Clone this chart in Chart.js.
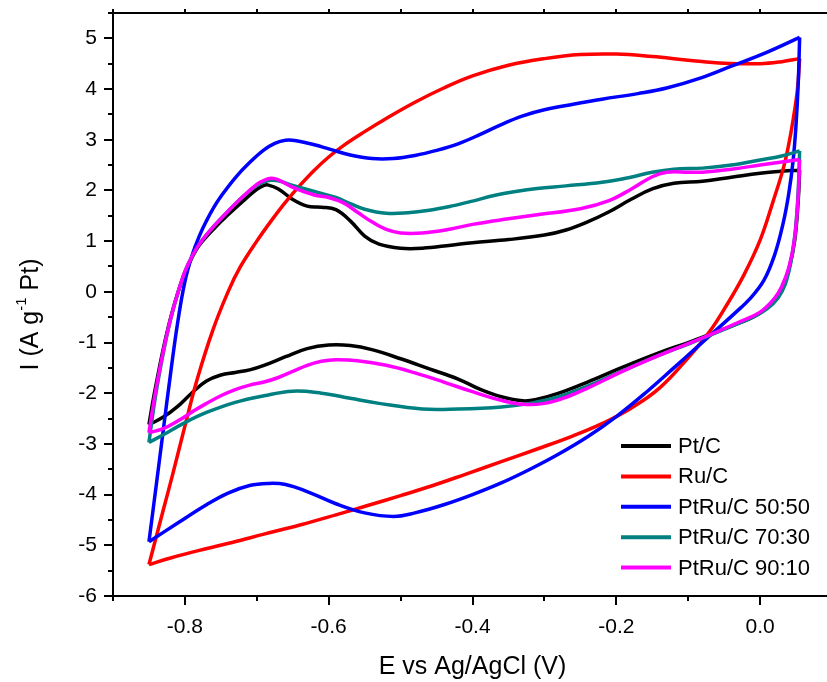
<!DOCTYPE html>
<html>
<head>
<meta charset="utf-8">
<script src="https://cdn.jsdelivr.net/npm/chart.js@4/dist/chart.umd.min.js"></script>
<style>
  html, body { margin: 0; padding: 0; background: #fff; overflow: hidden; }
  #wrap { width: 840px; height: 682px; }
</style>
</head>
<body>
<div id="wrap"><canvas id="cv" width="840" height="682"></canvas></div>
<script>
// potential (V vs Ag/AgCl) and current (A g-1 Pt); each loop = forward sweep then reverse sweep
const potentialTicks = [-0.8, -0.6, -0.4, -0.2, 0.0];
const currentTicks = [-6, -5, -4, -3, -2, -1, 0, 1, 2, 3, 4, 5];

const ptcE = [-0.85,-0.845,-0.84,-0.83,-0.82,-0.81,-0.80,-0.79,-0.78,-0.76,-0.74,-0.72,-0.70,-0.69,-0.685,-0.67,-0.65,-0.63,-0.61,-0.59,-0.57,-0.55,-0.53,-0.50,-0.47,-0.43,-0.40,-0.35,-0.30,-0.27,-0.24,-0.21,-0.18,-0.15,-0.12,-0.08,-0.04,0.00,0.03,0.055,
  0.053,0.048,0.04,0.03,0.02,0.0,-0.03,-0.07,-0.10,-0.14,-0.19,-0.24,-0.28,-0.31,-0.33,-0.36,-0.39,-0.42,-0.46,-0.50,-0.54,-0.57,-0.60,-0.63,-0.66,-0.69,-0.71,-0.73,-0.75,-0.77,-0.79,-0.81,-0.83,-0.85];
const ptcI = [-2.62,-2.2,-1.82,-1.12,-0.52,-0.03,0.38,0.68,0.92,1.24,1.52,1.78,2.02,2.10,2.11,2.03,1.82,1.69,1.67,1.62,1.40,1.10,0.94,0.86,0.86,0.92,0.97,1.03,1.12,1.22,1.38,1.58,1.82,2.03,2.14,2.18,2.26,2.34,2.38,2.40,
  1.8,1.0,0.45,0.08,-0.15,-0.42,-0.62,-0.84,-1.0,-1.2,-1.48,-1.78,-2.0,-2.12,-2.15,-2.07,-1.92,-1.72,-1.52,-1.32,-1.14,-1.06,-1.05,-1.12,-1.28,-1.45,-1.54,-1.59,-1.64,-1.76,-1.99,-2.26,-2.47,-2.62];

const rucE = [-0.85,-0.83,-0.817,-0.80,-0.783,-0.761,-0.74,-0.723,-0.70,-0.68,-0.66,-0.64,-0.62,-0.60,-0.58,-0.55,-0.52,-0.48,-0.44,-0.40,-0.35,-0.30,-0.25,-0.20,-0.15,-0.10,-0.05,0.0,0.03,0.055,
  0.052,0.046,0.039,0.032,0.018,0.0,-0.023,-0.046,-0.07,-0.10,-0.14,-0.18,-0.22,-0.26,-0.31,-0.36,-0.41,-0.455,-0.50,-0.547,-0.59,-0.64,-0.69,-0.733,-0.78,-0.82,-0.85];
const rucI = [-5.38,-4.3,-3.6,-2.65,-1.73,-0.75,0.0,0.49,1.0,1.4,1.77,2.1,2.4,2.66,2.88,3.16,3.42,3.74,4.02,4.26,4.47,4.6,4.68,4.69,4.64,4.57,4.51,4.5,4.54,4.6,
  4.0,3.4,2.85,2.42,1.78,1.02,0.32,-0.25,-0.78,-1.3,-1.9,-2.3,-2.6,-2.84,-3.1,-3.35,-3.6,-3.82,-4.02,-4.22,-4.4,-4.6,-4.78,-4.94,-5.1,-5.25,-5.38];

const ptru5050E = [-0.85,-0.84,-0.83,-0.82,-0.81,-0.80,-0.79,-0.78,-0.77,-0.76,-0.75,-0.73,-0.71,-0.69,-0.675,-0.66,-0.645,-0.62,-0.60,-0.57,-0.54,-0.51,-0.48,-0.45,-0.42,-0.39,-0.36,-0.33,-0.30,-0.26,-0.22,-0.17,-0.13,-0.08,-0.04,0.01,0.055,
  0.053,0.05,0.046,0.04,0.032,0.02,0.005,-0.015,-0.035,-0.06,-0.09,-0.12,-0.16,-0.20,-0.24,-0.28,-0.32,-0.36,-0.40,-0.44,-0.48,-0.51,-0.55,-0.59,-0.63,-0.66,-0.685,-0.71,-0.74,-0.77,-0.81,-0.85];
const ptru5050I = [-4.93,-3.83,-2.72,-1.62,-0.6,0.2,0.72,1.1,1.4,1.66,1.88,2.25,2.55,2.8,2.93,2.99,2.98,2.9,2.82,2.7,2.63,2.63,2.69,2.79,2.92,3.1,3.3,3.47,3.59,3.7,3.8,3.91,4.02,4.23,4.45,4.73,5.02,
  4.1,3.3,2.6,1.95,1.35,0.72,0.22,-0.15,-0.42,-0.74,-1.12,-1.5,-2.0,-2.46,-2.86,-3.2,-3.5,-3.77,-4.0,-4.2,-4.36,-4.43,-4.36,-4.18,-3.94,-3.8,-3.78,-3.82,-3.97,-4.2,-4.56,-4.93];

const ptru7030E = [-0.85,-0.845,-0.84,-0.83,-0.82,-0.81,-0.80,-0.79,-0.78,-0.76,-0.74,-0.72,-0.70,-0.69,-0.68,-0.67,-0.65,-0.62,-0.59,-0.57,-0.55,-0.52,-0.49,-0.46,-0.43,-0.40,-0.37,-0.34,-0.31,-0.27,-0.22,-0.18,-0.15,-0.12,-0.08,-0.04,0.0,0.03,0.055,
  0.053,0.049,0.043,0.035,0.025,0.01,-0.01,-0.04,-0.07,-0.10,-0.14,-0.19,-0.24,-0.28,-0.32,-0.36,-0.42,-0.47,-0.53,-0.57,-0.61,-0.65,-0.69,-0.73,-0.77,-0.80,-0.83,-0.85];
const ptru7030I = [-2.97,-2.45,-1.98,-1.2,-0.55,-0.03,0.40,0.70,0.94,1.29,1.59,1.87,2.10,2.17,2.20,2.19,2.10,1.98,1.86,1.74,1.63,1.55,1.56,1.61,1.69,1.79,1.90,1.98,2.04,2.09,2.16,2.26,2.36,2.42,2.44,2.50,2.60,2.68,2.78,
  2.0,1.2,0.6,0.15,-0.12,-0.33,-0.5,-0.68,-0.86,-1.03,-1.25,-1.55,-1.86,-2.07,-2.2,-2.27,-2.31,-2.31,-2.2,-2.1,-2.0,-1.96,-2.05,-2.18,-2.38,-2.58,-2.82,-2.97];

const ptru9010E = [-0.85,-0.845,-0.84,-0.83,-0.82,-0.81,-0.80,-0.79,-0.78,-0.76,-0.74,-0.72,-0.70,-0.69,-0.68,-0.67,-0.65,-0.62,-0.60,-0.58,-0.56,-0.54,-0.52,-0.50,-0.47,-0.43,-0.40,-0.35,-0.31,-0.25,-0.21,-0.18,-0.15,-0.13,-0.10,-0.08,-0.04,0.0,0.03,0.055,
  0.053,0.048,0.04,0.03,0.02,0.0,-0.03,-0.07,-0.10,-0.14,-0.19,-0.24,-0.27,-0.30,-0.33,-0.36,-0.40,-0.44,-0.48,-0.52,-0.56,-0.59,-0.61,-0.63,-0.65,-0.67,-0.69,-0.71,-0.73,-0.75,-0.77,-0.79,-0.81,-0.83,-0.85];
const ptru9010I = [-2.78,-2.32,-1.9,-1.17,-0.54,-0.03,0.40,0.70,0.94,1.29,1.59,1.87,2.12,2.20,2.24,2.21,2.06,1.91,1.86,1.76,1.57,1.38,1.23,1.16,1.16,1.24,1.33,1.44,1.52,1.64,1.80,2.02,2.27,2.36,2.36,2.36,2.42,2.50,2.56,2.61,
  1.9,1.05,0.48,0.1,-0.13,-0.4,-0.6,-0.85,-1.02,-1.25,-1.56,-1.9,-2.08,-2.2,-2.22,-2.14,-1.97,-1.78,-1.60,-1.45,-1.36,-1.34,-1.37,-1.45,-1.57,-1.69,-1.78,-1.84,-1.93,-2.05,-2.2,-2.37,-2.55,-2.7,-2.78];

const seriesLabels = ['Pt/C', 'Ru/C', 'PtRu/C 50:50', 'PtRu/C 70:30', 'PtRu/C 90:10'];
const seriesColors = ['#000000', '#ff0000', '#0000ff', '#008080', '#ff00ff'];
const seriesE = [ptcE, rucE, ptru5050E, ptru7030E, ptru9010E];
const seriesI = [ptcI, rucI, ptru5050I, ptru7030I, ptru9010I];

const FONT = '"Liberation Sans", Arial, Helvetica, sans-serif';

// split each loop at the upper vertex so the turning points stay sharp
const datasets = [];
seriesLabels.forEach((label, n) => {
  const E = seriesE[n], I = seriesI[n];
  const turn = E.indexOf(Math.max(...E));
  const pts = E.map((e, i) => ({ x: e, y: I[i] }));
  [pts.slice(0, turn + 1), pts.slice(turn)].forEach(seg => {
    datasets.push({
      label: label,
      data: seg,
      showLine: true,
      borderColor: seriesColors[n],
      borderWidth: 3.5,
      borderJoinStyle: 'round',
      pointRadius: 0,
      fill: false,
      tension: 0.4,
      order: seriesLabels.length - n
    });
  });
});

// box frame with outward major/minor ticks
const frame = {
  id: 'frame',
  afterDraw(chart) {
    const { ctx, chartArea: a, scales: { x, y } } = chart;
    ctx.save();
    ctx.strokeStyle = '#000';
    ctx.lineWidth = 2;
    ctx.beginPath();
    ctx.rect(a.left, a.top, a.right - a.left, a.bottom - a.top);
    for (let k = -9; k <= 1; k++) {
      const px = Math.round(x.getPixelForValue(k / 10));
      const len = k % 2 === 0 ? 9 : 5;
      ctx.moveTo(px, a.bottom); ctx.lineTo(px, a.bottom + len);
      ctx.moveTo(px, a.top); ctx.lineTo(px, a.top - 4);
    }
    for (let k = -12; k <= 11; k++) {
      const py = Math.round(y.getPixelForValue(k / 2));
      const len = k % 2 === 0 ? 9 : 5;
      ctx.moveTo(a.left, py); ctx.lineTo(a.left - len, py);
      ctx.moveTo(a.right, py); ctx.lineTo(a.right + len, py);
    }
    ctx.stroke();
    ctx.restore();
  }
};

// y title with superscript
const yTitle = {
  id: 'yTitle',
  afterDraw(chart) {
    const { ctx, chartArea: a } = chart;
    const big = '25px ' + FONT, small = '15px ' + FONT;
    const parts = [['I (A g', big, 0], ['-1', small, -9], [' Pt)', big, 0]];
    ctx.save();
    let total = 0;
    parts.forEach(p => { ctx.font = p[1]; total += ctx.measureText(p[0]).width; });
    ctx.translate(31, (a.top + a.bottom) / 2 + 10);
    ctx.rotate(-Math.PI / 2);
    ctx.fillStyle = '#000';
    ctx.textBaseline = 'middle';
    let cx = -total / 2;
    parts.forEach(p => {
      ctx.font = p[1];
      ctx.fillText(p[0], cx, p[2]);
      cx += ctx.measureText(p[0]).width;
    });
    ctx.restore();
  }
};

// legend inside the plot, lower right
const legendBox = {
  id: 'legendBox',
  afterDraw(chart) {
    const { ctx, chartArea: a } = chart;
    ctx.save();
    ctx.font = '22px ' + FONT;
    ctx.textBaseline = 'middle';
    seriesLabels.forEach((label, i) => {
      const yy = a.top + 433 + i * 30.4;
      ctx.strokeStyle = seriesColors[i];
      ctx.lineWidth = 4;
      ctx.beginPath();
      ctx.moveTo(a.right - 211, yy);
      ctx.lineTo(a.right - 161, yy);
      ctx.stroke();
      ctx.fillStyle = '#000';
      ctx.fillText(label, a.right - 154, yy + 1);
    });
    ctx.restore();
  }
};

new Chart(document.getElementById('cv'), {
  type: 'scatter',
  data: { datasets: datasets },
  options: {
    responsive: false,
    animation: false,
    layout: { padding: { left: 0, top: 13, right: 8, bottom: 0 } },
    plugins: { legend: { display: false }, tooltip: { enabled: false } },
    scales: {
      x: {
        type: 'linear',
        min: -0.9,
        max: 0.1,
        afterBuildTicks: s => { s.ticks = potentialTicks.map(v => ({ value: v })); },
        afterFit: s => { s.height = 86; s.paddingLeft = 0; s.paddingRight = 0; },
        grid: { display: false, drawTicks: false },
        border: { display: false },
        ticks: {
          autoSkip: false, maxRotation: 0, padding: 19, color: '#000',
          font: { family: FONT, size: 21 },
          callback: v => v.toFixed(1)
        },
        title: {
          display: true, text: 'E vs Ag/AgCl (V)', color: '#000', padding: 0,
          font: { family: FONT, size: 25 }
        }
      },
      y: {
        type: 'linear',
        min: -6,
        max: 5.5,
        afterBuildTicks: s => { s.ticks = currentTicks.map(v => ({ value: v })); },
        afterFit: s => { s.width = 113; s.paddingTop = 0; s.paddingBottom = 0; },
        grid: { display: false, drawTicks: false },
        border: { display: false },
        ticks: {
          autoSkip: false, padding: 16, color: '#000',
          font: { family: FONT, size: 21 },
          callback: v => String(v)
        }
      }
    }
  },
  plugins: [frame, yTitle, legendBox]
});
</script>
</body>
</html>
